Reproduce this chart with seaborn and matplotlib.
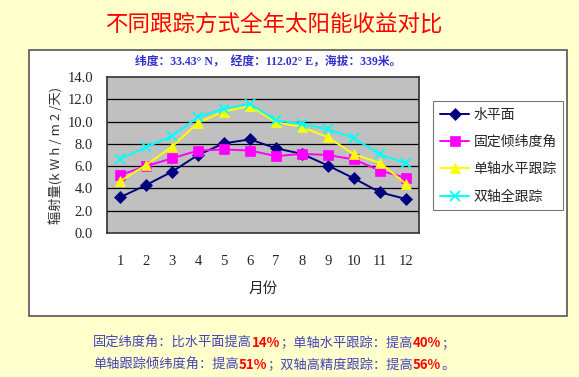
import numpy as np
import pandas as pd
import matplotlib
matplotlib.use("Agg")
import matplotlib.pyplot as plt
import matplotlib.patches as mpatches
from matplotlib.offsetbox import TextArea, HPacker, AnchoredOffsetbox
import seaborn as sns

# ── 数据 ──────────────────────────────────────────────────────────────────────
months = [1, 2, 3, 4, 5, 6, 7, 8, 9, 10, 11, 12]
horizontal = [3.2, 4.3, 5.5, 7.0, 8.05, 8.4, 7.6, 7.1, 6.05, 4.9, 3.65, 3.05]
fixed_tilt = [5.2, 6.0, 6.7, 7.4, 7.5, 7.4, 6.9, 7.1, 7.0, 6.6, 5.6, 4.95]
single_axis = [4.65, 6.1, 7.75, 9.9, 10.9, 11.4, 9.95, 9.5, 8.6, 7.05, 6.3, 4.4]
dual_axis = [6.65, 7.7, 8.7, 10.4, 11.15, 11.6, 10.1, 9.8, 9.3, 8.5, 7.05, 6.25]

series_names = ["水平面", "固定倾纬度角", "单轴水平跟踪", "双轴全跟踪"]
series_values = [horizontal, fixed_tilt, single_axis, dual_axis]
colors = ["#000080", "#FF00FF", "#FFFF00", "#00FFFF"]
markers = ["D", "s", "^", "x"]

df = pd.DataFrame({
    "month": months * 4,
    "value": sum(series_values, []),
    "series": np.repeat(series_names, 12),
})

sns.set_theme(style="white")
cjk = ["Noto Sans CJK SC", "DejaVu Sans"]
serif_cjk = ["Liberation Serif", "Noto Sans CJK SC"]
plt.rcParams["font.family"] = cjk

W, H = 579, 377
fig = plt.figure(figsize=(W / 100, H / 100), dpi=100, facecolor="#FFFFCC")

# 白色图表框
fig.patches.append(mpatches.Rectangle((29 / W, 1 - 316 / H), (567 - 29) / W, (316 - 50) / H,
                                      transform=fig.transFigure, facecolor="white",
                                      edgecolor="#555555", linewidth=1.2, zorder=-5))

ax = fig.add_axes([107 / W, 1 - 233 / H, (419 - 107) / W, (233 - 77) / H])
ax.set_zorder(2)
ax.set_facecolor("#C0C0C0")

for name, col, mk in zip(series_names, colors, markers):
    sub = df[df["series"] == name]
    sns.lineplot(data=sub, x="month", y="value", ax=ax, color=col, marker=mk,
                 markersize=6.5 if mk != "x" else 7, markeredgecolor=col,
                 markeredgewidth=1.3 if mk == "x" else 0.5, linewidth=1.4, label=name)

ax.set_xlim(0.5, 12.5)
ax.set_ylim(0, 14)
ax.set_yticks(np.arange(0, 14.1, 2))
ax.set_yticklabels([f"{v:.1f}" for v in np.arange(0, 14.1, 2)],
                   family="Liberation Serif", fontsize=10.5)
ax.set_xticks(months)
ax.set_xticklabels([str(m) for m in months], family="Liberation Serif", fontsize=10.5)
ax.set_xticks(np.arange(0.5, 12.6, 1), minor=True)
ax.tick_params(axis="x", which="major", length=0, pad=16)
ax.tick_params(axis="x", which="minor", direction="in", length=5, width=1, color="#333333")
ax.tick_params(axis="y", length=0, pad=10)
for y in range(2, 14, 2):
    ax.axhline(y, color="black", linewidth=0.9, zorder=0.5)
for s in ax.spines.values():
    s.set_color("#333333")
    s.set_linewidth(1.2)

ax.set_xlabel("月份", fontsize=10.5, labelpad=10)
ax.set_ylabel("辐射量(k W h / m 2 /天)", fontsize=9.5, labelpad=3, color="#333333")

leg = ax.legend(loc="upper left", bbox_to_anchor=(433 / W, 1 - 101 / H),
                bbox_transform=fig.transFigure, fontsize=10, frameon=True,
                fancybox=False, edgecolor="#777777", handlelength=2.1,
                handletextpad=0.3, labelspacing=0.95, borderpad=0.5,
                borderaxespad=0)
leg.get_frame().set_linewidth(0.8)
leg.get_frame().set_facecolor("white")
leg.get_frame().set_alpha(1)

# 标题和副标题
fig.text(274 / W, 1 - 24 / H, "不同跟踪方式全年太阳能收益对比", color="#FF0000",
         fontsize=16.2, style="italic", ha="center", va="center")
fig.text(268 / W, 1 - 62 / H, "纬度：33.43° N，  经度：112.02° E，海拔：339米。",
         color="#3333CC", fontsize=8.5, fontweight="bold", family=serif_cjk,
         ha="center", va="center")

# 底部说明文字（蓝色 + 红色数字）
blue, red = "#4444BB", "#FF0000"
lines = [
    [("固定纬度角：比水平面提高", blue), ("14%", red), ("；单轴水平跟踪：提高", blue),
     ("40%", red), ("；", blue)],
    [("单轴跟踪倾纬度角：提高", blue), ("51%", red), ("；双轴高精度跟踪：提高", blue),
     ("56%", red), ("。", blue)],
]
for i, parts in enumerate(lines):
    boxes = [TextArea(t, textprops=dict(color=c, fontsize=9.5,
                                        fontweight="bold" if c == red else "medium"))
             for t, c in parts]
    pack = HPacker(children=boxes, align="baseline", pad=0, sep=0)
    anch = AnchoredOffsetbox(loc="center left", child=pack, pad=0, frameon=False,
                             bbox_to_anchor=(93 / W, 1 - (343 + 22 * i) / H),
                             bbox_transform=fig.transFigure, borderpad=0)
    fig.add_artist(anch)

fig.savefig("out.png", dpi=100, facecolor=fig.get_facecolor())
